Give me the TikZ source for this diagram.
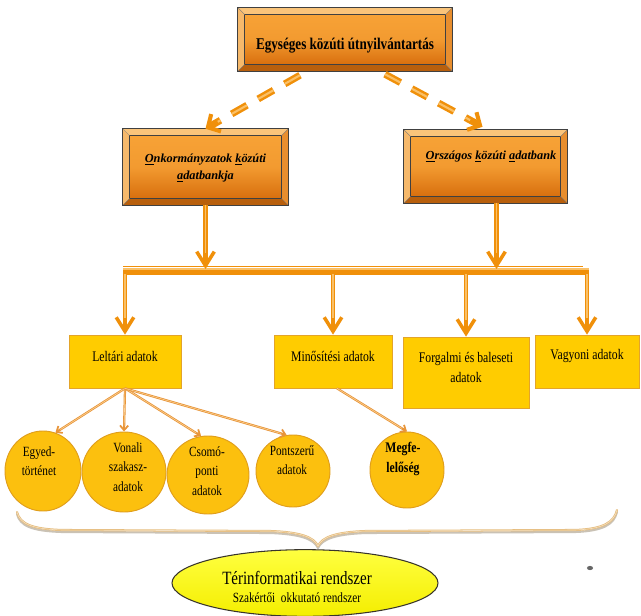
\documentclass[tikz,border=0pt]{standalone}
\usepackage{fontspec}
\setmainfont{Liberation Serif}
\newfontfamily\narrowfont{Liberation Serif}[FakeStretch=0.8]
\usetikzlibrary{arrows.meta,shapes.geometric,calc,fit}

\definecolor{arrowor}{HTML}{F0900A}
\definecolor{arrowlt}{HTML}{FAC067}
\definecolor{thinor}{HTML}{E8953A}
\definecolor{faceTop}{HTML}{F7A236}
\definecolor{faceBot}{HTML}{D86F0E}
\definecolor{bevLt}{HTML}{FAC47A}
\definecolor{bevMd}{HTML}{E88E2E}
\definecolor{bevDk}{HTML}{B85F0C}
\definecolor{gold}{HTML}{FFCC00}
\definecolor{goldEdge}{HTML}{E3A42A}
\definecolor{circFill}{HTML}{FCC00E}
\definecolor{circEdge}{HTML}{E09E1C}
\definecolor{braceCol}{HTML}{E6BC7C}
\definecolor{braceSh}{HTML}{B9AE9C}
\definecolor{ellFill}{HTML}{F4EE00}
\definecolor{ellTop}{HTML}{FFFF40}

% bevelled 3D box drawn around an (empty) fit node
\newcommand\bevelbox[2]{%
  \fill[bevLt] (#1.north west) -- (#1.north east) -- ($(#1.north east)+(-#2,#2)$) -- ($(#1.north west)+(#2,#2)$) -- cycle;
  \fill[bevLt!80!bevMd] (#1.north west) -- ($(#1.north west)+(#2,#2)$) -- ($(#1.south west)+(#2,-#2)$) -- (#1.south west) -- cycle;
  \fill[bevMd] (#1.north east) -- (#1.south east) -- ($(#1.south east)+(-#2,-#2)$) -- ($(#1.north east)+(-#2,#2)$) -- cycle;
  \fill[bevDk] (#1.south west) -- ($(#1.south west)+(#2,-#2)$) -- ($(#1.south east)+(-#2,-#2)$) -- (#1.south east) -- cycle;
  \shade[top color=faceTop, bottom color=faceBot, middle color=faceTop!85!faceBot] ($(#1.north west)+(#2,#2)$) rectangle ($(#1.south east)+(-#2,-#2)$);
  \draw[line width=0.5pt, black!75] ($(#1.north west)+(#2,#2)$) rectangle ($(#1.south east)+(-#2,-#2)$);
  \draw[line width=0.3pt, black!55] (#1.north west) -- ($(#1.north west)+(#2,#2)$)
     (#1.north east) -- ($(#1.north east)+(-#2,#2)$)
     (#1.south west) -- ($(#1.south west)+(#2,-#2)$)
     (#1.south east) -- ($(#1.south east)+(-#2,-#2)$);
  \draw[line width=0.6pt, black!75] (#1.north west) rectangle (#1.south east);
}

\begin{document}
\begin{tikzpicture}[x=0.03cm, y=-0.03cm,
  toptext/.style={font=\narrowfont\bfseries\fontsize{14}{16}\selectfont, inner sep=0pt},
  dbtext/.style={font=\bfseries\itshape\fontsize{10.5}{14}\selectfont, inner sep=0pt, align=center},
  ybox/.style={draw=goldEdge, line width=0.6pt, fill=gold, inner sep=0pt, align=center,
     font=\narrowfont\fontsize{12.5}{17}\selectfont},
  circ/.style={ellipse, draw=circEdge, line width=0.8pt, fill=circFill, inner sep=0pt},
  ctext/.style={font=\narrowfont\fontsize{12}{16.5}\selectfont, align=center, inner sep=0pt},
  bigarrow/.style={arrowor, line width=3.6pt,
     -{Straight Barb[length=12pt, width=15pt, line width=3pt]},
     postaction={draw, arrowlt, line width=1.1pt, -, shorten >=14pt}},
  dasharrow/.style={arrowor, line width=6pt, dash pattern=on 15pt off 11pt,
     -{Straight Barb[length=8pt, width=17pt, line width=3.5pt]},
     postaction={draw, arrowlt, line width=1.8pt, dash pattern=on 15pt off 11pt, -, shorten >=12pt}},
  thinarrow/.style={thinor, line width=1.9pt,
     -{Straight Barb[length=4pt, width=7pt, line width=1.5pt]},
     postaction={draw, arrowlt!70!white, line width=0.5pt, -, shorten >=5pt}},
  bracestyle/.style={line width=1.8pt, line cap=round, line join=round}
]
\useasboundingbox (0,0) rectangle (641,616);
\fill[white] (0,0) rectangle (641,616);

% database boxes
\node[fit={(238,8)(452,71)}, inner sep=0pt] (top) {};
\node[fit={(123,129)(288,205)}, inner sep=0pt] (lbox) {};
\node[fit={(404,130)(567,203)}, inner sep=0pt] (rbox) {};
\bevelbox{top}{7}
\bevelbox{lbox}{7}
\bevelbox{rbox}{7}
\node[toptext] (topT) at ($(top.center)+(0,6)$) {Egységes közúti útnyilvántartás};
\node[dbtext] (lboxT) at ($(lbox.center)+(0,1)$) {\underline{O}nkormányzatok \underline{k}özúti\\\underline{a}datbankja};
\node[dbtext] (rboxT) at (491,157) {\underline{O}rszágos \underline{k}özúti \underline{a}datbank};

% dashed links from the top box
\draw[dasharrow] ($(top.south)+(-45,4)$) -- (lbox.north);
\draw[dasharrow] ($(top.south)+(40,3)$) -- ($(rbox.north)+(-3,-3)$);

% data groups
\node[ybox, fit={(69,335)(181,388)}] (b1) {Leltári adatok};
\node[ybox, fit={(274,335)(392,388)}] (b2) {Minősítési adatok\hspace*{14pt}};
\node[ybox, fit={(403,337)(529,408)}] (b3) {Forgalmi és baleseti\\adatok};
\node[ybox, fit={(535,335)(639,388)}] (b4) {Vagyoni adatok};

% distribution bus
\coordinate (bus) at (0,272);
\draw[arrowor, line width=4.5pt] ($(b1.north |- bus)+(-2,0)$) -- ($(b4.north |- bus)+(2,0)$);
\draw[arrowlt, line width=1pt] ($(b1.north |- bus)+(-2,-3)$) -- ($(b4.north |- bus)+(2,-3)$);
\draw[arrowor, line width=0.8pt] ($(b1.north |- bus)+(-2,-6)$) -- ($(b4.north |- bus)+(-4,-6)$);

\draw[bigarrow] (lbox.south) -- ($(lbox.south |- bus)+(0,-3)$);
\draw[bigarrow] ($(rbox.south)+(11,0)$) -- ($(rbox.south |- bus)+(11,-3)$);
\foreach \b in {b1,b2,b3,b4}
  \draw[bigarrow] ($(\b.north |- bus)+(0,2)$) -- (\b.north);

% detail circles
\node[circ, minimum width=2.28cm, minimum height=2.4cm] (c1) at (43,471) {};
\node[circ, minimum width=2.52cm, minimum height=2.4cm] (c2) at (124,472) {};
\node[circ, minimum width=2.46cm, minimum height=2.34cm] (c3) at (208,475) {};
\node[circ, minimum width=2.22cm, minimum height=2.16cm] (c4) at (293,471) {};
\node[circ, minimum width=2.22cm, minimum height=2.28cm] (c5) at (407,470) {};
\node[ctext] (c1t) at (39,461) {Egyed-\\történet};
\node[ctext] (c2t) at (128,467) {Vonali\\szakasz-\\adatok};
\node[ctext] (c3t) at (207,471) {Csomó-\\ponti\\adatok};
\node[ctext] (c4t) at (292,460) {Pontszerű\\adatok};
\node[ctext, font=\narrowfont\bfseries\fontsize{12.5}{16.5}\selectfont] (c5t) at (403,459) {Megfe-\\lelőség};

\draw[thinarrow] (b1.south) -- (c1.72);
\draw[thinarrow] (b1.south) -- (c2.north);
\draw[thinarrow] (b1.south) -- (c3.100);
\draw[thinarrow] (b1.south) -- (c4.100);
\draw[thinarrow] ($(b2.south)+(4,0)$) -- (c5.north);

% brace gathering everything
\def\bracepath{(17,512) .. controls (20,524) and (32,529) .. (62,530) -- (270,531) .. controls (300,532) and (314,537) .. (318,546) .. controls (322,537) and (336,532) .. (366,531) -- (575,530) .. controls (604,529) and (614,522) .. (617,510)}
\draw[bracestyle, braceSh!75!white, yshift=-1.7pt] \bracepath;
\draw[bracestyle, braceCol] \bracepath;
\draw[line width=0.5pt, white!55!braceCol] \bracepath;

% GIS ellipse
\node[ellipse, draw=black!80!olive, line width=0.9pt, top color=ellTop, bottom color=ellFill,
      minimum width=7.98cm, minimum height=2.0cm, inner sep=0pt] (geo) at (305,583) {};
\node[font=\narrowfont, align=center, inner sep=0pt] (geoT) at (297,587)
  {{\fontsize{16}{17}\selectfont Térinformatikai rendszer}\\[3.5pt]
   {\fontsize{12}{13}\selectfont Szakértői\ \ okkutató rendszer}};

% small mark
\fill[black!60] (590,568) ellipse [x radius=2.6pt, y radius=1.8pt];
\end{tikzpicture}
\end{document}
